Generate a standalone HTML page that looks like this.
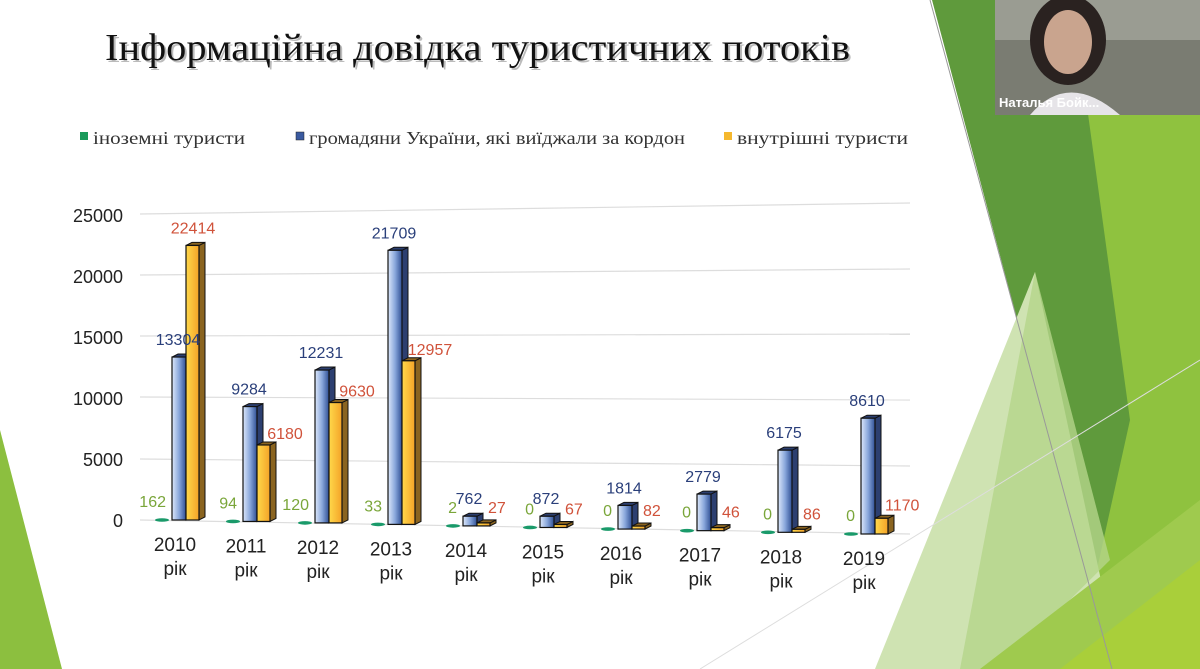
<!DOCTYPE html>
<html><head><meta charset="utf-8"><style>
html,body{margin:0;padding:0;width:1200px;height:669px;overflow:hidden;background:#fff}
svg{display:block}
</style></head><body>
<svg width="1200" height="669" viewBox="0 0 1200 669" xmlns="http://www.w3.org/2000/svg" font-family="Liberation Sans, DejaVu Sans, sans-serif">
<defs>
<linearGradient id="bl" x1="0" x2="1"><stop offset="0" stop-color="#dde8fa"/><stop offset="0.5" stop-color="#8aa8dc"/><stop offset="1" stop-color="#2f4f95"/></linearGradient>
<linearGradient id="ye" x1="0" x2="1"><stop offset="0" stop-color="#ffd84a"/><stop offset="1" stop-color="#f4a328"/></linearGradient>
</defs>
<polygon points="0,430 62,669 0,669" fill="#8cbf3f"/>
<polygon points="932,0 995,0 995,115 1200,115 1200,669 1110,669" fill="#5f9a3c"/>
<polygon points="1085,92 1200,92 1200,669 1075,669 1130,420" fill="#8fc23f"/>
<polygon points="1035,272 1120,669 875,669" fill="#cfe3b2"/>
<polygon points="1035,272 1110,560 1000,669 960,669" fill="#b4d48a" opacity="0.8"/>
<polygon points="980,669 1200,500 1200,669" fill="#9fca4e"/>
<polygon points="1060,669 1200,560 1200,669" fill="#a9cf3a"/>
<line x1="930" y1="0" x2="1112" y2="669" stroke="#999" stroke-width="1"/>
<line x1="700" y1="669" x2="1200" y2="360" stroke="#ddd" stroke-width="1"/>
<rect x="995" y="0" width="205" height="115" fill="#7a7c72"/>
<rect x="995" y="0" width="205" height="40" fill="#9a9c92"/>
<ellipse cx="1068" cy="40" rx="38" ry="45" fill="#2a2220"/>
<ellipse cx="1068" cy="42" rx="24" ry="32" fill="#c9a48e"/>
<path d="M1030,115 Q1068,70 1120,115 Z" fill="#e6e4e8"/>
<text x="999" y="107" font-size="13" font-weight="bold" fill="#fff">Наталья Бойк...</text>
<text x="107" y="62" font-family="Liberation Serif, serif" font-size="38" fill="#bbb" textLength="745" lengthAdjust="spacingAndGlyphs">Інформаційна довідка туристичних потоків</text>
<text x="105" y="60" font-family="Liberation Serif, serif" font-size="38" fill="#111" textLength="745" lengthAdjust="spacingAndGlyphs">Інформаційна довідка туристичних потоків</text>
<g font-family="Liberation Serif, serif" font-size="18" fill="#333">
<rect x="80" y="132" width="8" height="8" fill="#1a9a5a"/><text x="93" y="144" textLength="152" lengthAdjust="spacingAndGlyphs">іноземні туристи</text>
<rect x="296" y="132" width="8" height="8" fill="#3a5aa0" stroke="#222" stroke-width="0.5"/><text x="309" y="144" textLength="376" lengthAdjust="spacingAndGlyphs">громадяни України, які виїджали за кордон</text>
<rect x="724" y="132" width="8" height="8" fill="#f5b82e"/><text x="737" y="144" textLength="171" lengthAdjust="spacingAndGlyphs">внутрішні туристи</text>
</g>
<g stroke="#ddd" stroke-width="1.2" fill="none">
<line x1="140" y1="214" x2="910" y2="203"/>
<line x1="140" y1="275" x2="910" y2="269"/>
<line x1="140" y1="336" x2="910" y2="334"/>
<line x1="140" y1="397" x2="910" y2="400"/>
<line x1="140" y1="459" x2="910" y2="466"/>
<line x1="140" y1="520" x2="910" y2="534"/>
</g>
<g font-size="18" fill="#222" text-anchor="end">
<text x="123" y="222">25000</text><text x="123" y="283">20000</text><text x="123" y="344">15000</text>
<text x="123" y="405">10000</text><text x="123" y="466">5000</text><text x="123" y="527">0</text>
</g>
<g id="bars"></g>
<g id="labels"></g>
</svg>
<script>
var data=[[2010,162,13304,22414,172],[2011,94,9284,6180,243],[2012,120,12231,9630,315],[2013,33,21709,12957,388],[2014,2,762,27,463],[2015,0,872,67,540],[2016,0,1814,82,618],[2017,0,2779,46,697],[2018,0,6175,86,778],[2019,0,8610,1170,861]];
var NS="http://www.w3.org/2000/svg",g=document.getElementById('bars'),L=document.getElementById('labels');
function el(t,a,p){var e=document.createElementNS(NS,t);for(var k in a)e.setAttribute(k,a[k]);(p||g).appendChild(e);return e}
function tx(x,y,s,c,sz,anc){var e=el('text',{x:x,y:y,fill:c,'font-size':sz,'text-anchor':anc||'middle'},L);e.textContent=s}
function bar(x,b,h,f,side,w){h=Math.max(h,3);
 el('polygon',{points:(x+w)+','+(b-h)+' '+(x+w+6)+','+(b-h-3)+' '+(x+w+6)+','+(b-3)+' '+(x+w)+','+b,fill:side,stroke:'#111','stroke-width':1});
 el('polygon',{points:x+','+(b-h)+' '+(x+6)+','+(b-h-3)+' '+(x+w+6)+','+(b-h-3)+' '+(x+w)+','+(b-h),fill:side,stroke:'#111','stroke-width':1});
 el('rect',{x:x,y:b-h,width:w,height:h,fill:f,stroke:'#111','stroke-width':1.2});}
data.forEach(function(d){var x=d[4];var t=(x-172)/(861-172);var b=520+t*14;var k=0.01225+t*0.0012;
 el('ellipse',{cx:x-10,cy:b,rx:7,ry:1.8,fill:'#1a9a6a'});
 bar(x,b,d[2]*k,'url(#bl)','#2c3f70',14);
 bar(x+14,b,d[3]*k,'url(#ye)','#8a6420',13);
 tx(x-6,b-13,d[1],'#7aa63a',16,'end');
 var hb=Math.max(d[2]*k,3),hy=Math.max(d[3]*k,3);
 tx(x+6,b-hb-12,d[2],'#2a3f7a',16);
 if(d[3]>d[2]) tx(x+21,b-hy-12,d[3],'#d0523a',16);
 else if(d[3]>5000) tx(x+42,b-hy-6,d[3],'#d0523a',16);
 else if(d[3]>500) tx(x+24,b-hy-8,d[3],'#d0523a',16,'start');
 else tx(x+25,b-13,d[3],'#d0523a',16,'start');
 tx(x+3,b+31,d[0],'#222',19);tx(x+3,b+55,'рік','#222',19);
});
</script>
</body></html>
